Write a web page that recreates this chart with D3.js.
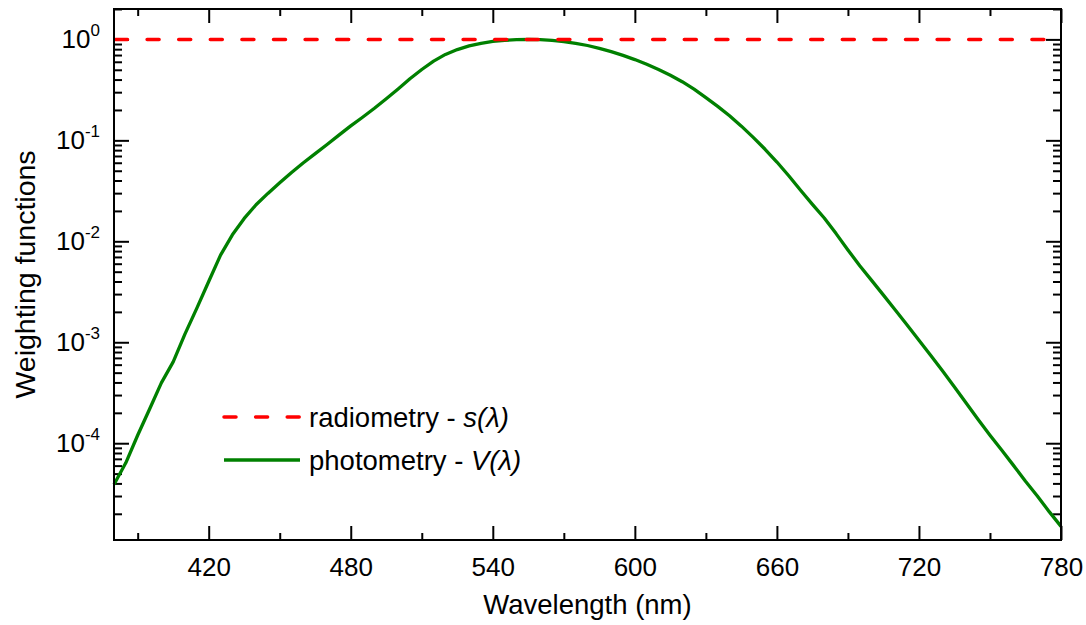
<!DOCTYPE html>
<html>
<head>
<meta charset="utf-8">
<script src="https://cdn.jsdelivr.net/npm/d3@7"></script>
<style>
  body { margin: 0; background: #fff; }
  text { font-family: "Liberation Sans", Arial, sans-serif; fill: #000; }
</style>
</head>
<body>
<div id="chart"></div>
<script>
// wavelength grid (nm) and photopic weighting V(lambda)
var wavelength = [380, 385, 390, 395, 400, 405, 410, 415, 420, 425, 430, 435, 440, 445, 450, 455,
  460, 465, 470, 475, 480, 485, 490, 495, 500, 505, 510, 515, 520, 525, 530, 535, 540, 545, 550,
  555, 560, 565, 570, 575, 580, 585, 590, 595, 600, 605, 610, 615, 620, 625, 630, 635, 640, 645,
  650, 655, 660, 665, 670, 675, 680, 685, 690, 695, 700, 705, 710, 715, 720, 725, 730, 735, 740,
  745, 750, 755, 760, 765, 770, 775, 780];
var photometry = [0.000039, 0.000064, 0.00012, 0.000217, 0.000396, 0.00064, 0.00121, 0.00218,
  0.004, 0.0073, 0.0116, 0.01684, 0.023, 0.0298, 0.038, 0.048, 0.06, 0.0739, 0.09098, 0.1126,
  0.13902, 0.1693, 0.20802, 0.2586, 0.323, 0.4073, 0.503, 0.6082, 0.71, 0.7932, 0.862, 0.91485,
  0.954, 0.98, 0.99495, 1.0, 0.995, 0.9786, 0.952, 0.9154, 0.87, 0.8163, 0.757, 0.6949, 0.631,
  0.5668, 0.503, 0.4412, 0.381, 0.321, 0.265, 0.217, 0.175, 0.1382, 0.107, 0.0816, 0.061, 0.04458,
  0.032, 0.0232, 0.017, 0.01192, 0.00821, 0.005723, 0.004102, 0.002929, 0.002091, 0.001484,
  0.001047, 0.00074, 0.00052, 0.000361, 0.000249, 0.000172, 0.00012, 0.000085, 0.00006, 0.000042,
  0.00003, 0.000021, 0.000015];
// flat radiometric weighting s(lambda)
var radioWavelength = [380, 780];
var radiometry = [1, 1];

var xMajor = [420, 480, 540, 600, 660, 720, 780];
var xMinor = [390, 450, 510, 570, 630, 690, 750];
var yExponents = [0, -1, -2, -3, -4];

var width = 1086, height = 625;
var margin = { top: 9, right: 25, bottom: 85, left: 114 };

var svg = d3.select("#chart").append("svg")
  .attr("width", width)
  .attr("height", height);

var x = d3.scaleLinear().domain([380, 780]).range([margin.left, width - margin.right]);
var y = d3.scaleLog().domain([1.1e-5, 2]).range([height - margin.bottom, margin.top]);

var yMajor = yExponents.map(function (e) { return Math.pow(10, e); });
var yMinor = [];
for (var e = -5; e <= 0; e++) {
  for (var m = 2; m <= 9; m++) {
    var v = m * Math.pow(10, e);
    if (v >= y.domain()[0] && v <= y.domain()[1]) yMinor.push(v);
  }
}

function tickAxis(axis, g) {
  g.call(axis);
  g.select(".domain").remove();
  g.selectAll(".tick line").attr("stroke", "#000").attr("stroke-width", 2);
}

var bottomY = height - margin.bottom;
var rightX = width - margin.right;

// bottom axis
var gx = svg.append("g").attr("transform", "translate(0," + bottomY + ")");
tickAxis(d3.axisBottom(x).tickValues(xMajor).tickSize(-14).tickPadding(18), gx);
gx.selectAll(".tick text").style("font-size", "26px").style("font-family", "Liberation Sans, Arial, sans-serif");
tickAxis(d3.axisBottom(x).tickValues(xMinor).tickSize(-7).tickFormat(""),
  svg.append("g").attr("transform", "translate(0," + bottomY + ")"));

// top axis
tickAxis(d3.axisTop(x).tickValues(xMajor).tickSize(-14).tickFormat(""),
  svg.append("g").attr("transform", "translate(0," + margin.top + ")"));
tickAxis(d3.axisTop(x).tickValues(xMinor).tickSize(-7).tickFormat(""),
  svg.append("g").attr("transform", "translate(0," + margin.top + ")"));

// left axis
tickAxis(d3.axisLeft(y).tickValues(yMajor).tickSize(-15).tickFormat(""),
  svg.append("g").attr("transform", "translate(" + margin.left + ",0)"));
tickAxis(d3.axisLeft(y).tickValues(yMinor).tickSize(-8).tickFormat(""),
  svg.append("g").attr("transform", "translate(" + margin.left + ",0)"));

// right axis
tickAxis(d3.axisRight(y).tickValues(yMajor).tickSize(-15).tickFormat(""),
  svg.append("g").attr("transform", "translate(" + rightX + ",0)"));
tickAxis(d3.axisRight(y).tickValues(yMinor).tickSize(-8).tickFormat(""),
  svg.append("g").attr("transform", "translate(" + rightX + ",0)"));

// y tick labels as 10^n
var ylab = svg.append("g").selectAll("text")
  .data(yExponents)
  .enter()
  .append("text")
  .attr("x", margin.left - 14)
  .attr("y", function (d) { return y(Math.pow(10, d)) + 9; })
  .attr("text-anchor", "end")
  .style("font-size", "26px");
ylab.append("tspan").text("10");
ylab.append("tspan")
  .attr("dy", -12)
  .style("font-size", "17px")
  .text(function (d) { return d; });

// curves
var line = d3.line()
  .x(function (d) { return x(d[0]); })
  .y(function (d) { return y(d[1]); });

svg.append("path")
  .datum(d3.zip(wavelength, photometry))
  .attr("d", line)
  .attr("fill", "none")
  .attr("stroke", "#008000")
  .attr("stroke-width", 3.3)
  .attr("stroke-linejoin", "round");

svg.append("path")
  .datum(d3.zip(radioWavelength, radiometry))
  .attr("d", line)
  .attr("fill", "none")
  .attr("stroke", "#ff0000")
  .attr("stroke-width", 3.5)
  .attr("stroke-dasharray", "12,19.6")
  .attr("stroke-dashoffset", -1.5)
  .attr("stroke-linecap", "round");

// frame
svg.append("rect")
  .attr("x", margin.left)
  .attr("y", margin.top)
  .attr("width", rightX - margin.left)
  .attr("height", bottomY - margin.top)
  .attr("fill", "none")
  .attr("stroke", "#000")
  .attr("stroke-width", 2);

// legend
var legend = svg.append("g").attr("class", "legend");
var legendItems = [
  { name: "radiometry - ", fn: "s(λ)", color: "#ff0000", dash: "12,19.6", w: 3.5, y: 417 },
  { name: "photometry - ", fn: "V(λ)", color: "#008000", dash: null, w: 3.3, y: 460 }
];
legendItems.forEach(function (it) {
  legend.append("line")
    .attr("x1", 224).attr("x2", 300)
    .attr("y1", it.y).attr("y2", it.y)
    .attr("stroke", it.color)
    .attr("stroke-width", it.w)
    .attr("stroke-linecap", it.dash ? "round" : "butt")
    .attr("stroke-dasharray", it.dash);
  var t = legend.append("text")
    .attr("x", 309)
    .attr("y", it.y + 10)
    .style("font-size", "27.5px");
  t.append("tspan").text(it.name);
  t.append("tspan").style("font-style", "italic").text(it.fn);
});

// axis titles
svg.append("text")
  .attr("x", (margin.left + rightX) / 2)
  .attr("y", 614)
  .attr("text-anchor", "middle")
  .style("font-size", "27.5px")
  .text("Wavelength (nm)");

svg.append("text")
  .attr("transform", "translate(35," + (margin.top + bottomY) / 2 + ") rotate(-90)")
  .attr("text-anchor", "middle")
  .style("font-size", "28.5px")
  .text("Weighting functions");
</script>
</body>
</html>
